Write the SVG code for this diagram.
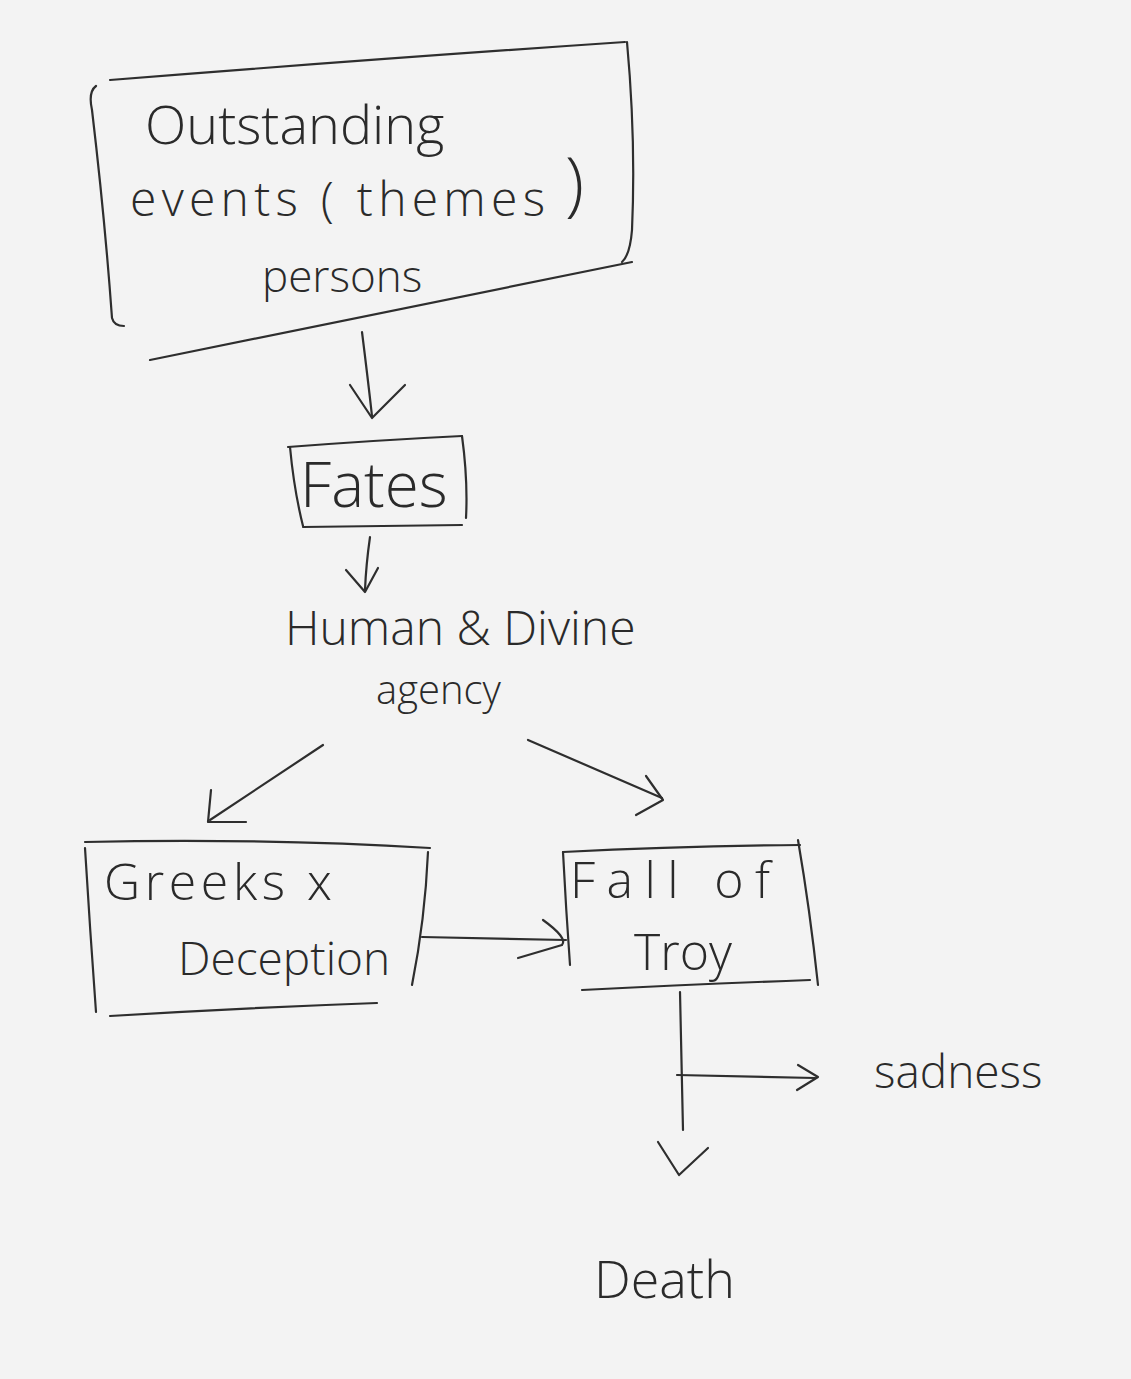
<svg xmlns="http://www.w3.org/2000/svg" width="1131" height="1379" viewBox="0 0 1131 1379">
<style>
.ln{fill:none;stroke:#2e2e2e;stroke-width:2.2;stroke-linecap:round;stroke-linejoin:round}
.tx{font-family:"Open Sans","Liberation Sans",sans-serif;font-weight:300;fill:#2a2a2a}
</style>
<rect x="0" y="0" width="1131" height="1379" fill="#f3f3f3"/>
<g id="node-outstanding">
<path class="ln" d="M110 80 Q360 60 625 42"/>
<path class="ln" d="M96 86 Q88 92 92 110 Q105 220 112 318 Q114 326 124 326"/>
<path class="ln" d="M627 42 Q636 140 632 230 Q630 255 622 262"/>
<path class="ln" d="M150 360 Q400 310 632 262"/>
<text class="tx" x="145" y="144" font-size="54">Outstanding</text>
<text class="tx" x="130" y="216" font-size="48" textLength="415">events ( themes</text>
<text class="tx" x="565" y="208" font-size="70">)</text>
<text class="tx" x="262" y="292" font-size="44">persons</text>
</g>
<g id="node-fates">
<path class="ln" d="M288 447 Q380 440 462 436"/>
<path class="ln" d="M290 447 Q294 490 303 526"/>
<path class="ln" d="M303 527 L462 525"/>
<path class="ln" d="M462 436 Q468 480 466 518"/>
<text class="tx" x="300" y="507" font-size="62">Fates</text>
</g>
<g id="node-agency">
<text class="tx" x="285" y="645" font-size="48">Human &amp; Divine</text>
<text class="tx" x="376" y="704" font-size="40">agency</text>
</g>
<g id="node-greeks">
<path class="ln" d="M85 842 Q260 838 430 848"/>
<path class="ln" d="M85 848 Q90 930 96 1012"/>
<path class="ln" d="M110 1016 Q240 1008 377 1003"/>
<path class="ln" d="M428 852 Q425 920 412 985"/>
<text class="tx" x="104" y="900" font-size="50" textLength="228">Greeks x</text>
<text class="tx" x="178" y="975" font-size="46">Deception</text>
</g>
<g id="node-troy">
<path class="ln" d="M563 852 Q680 846 800 845"/>
<path class="ln" d="M563 852 Q566 910 570 965"/>
<path class="ln" d="M798 840 Q810 910 818 985"/>
<path class="ln" d="M582 990 Q700 984 810 980"/>
<text class="tx" x="570" y="898" font-size="50" textLength="200">Fall of</text>
<text class="tx" x="634" y="970" font-size="50">Troy</text>
</g>
<g id="node-sadness">
<text class="tx" x="874" y="1088" font-size="46">sadness</text>
</g>
<g id="node-death">
<text class="tx" x="594" y="1298" font-size="52">Death</text>
</g>
<g id="connectors">
<path class="ln" d="M362 332 Q368 380 372 416"/>
<path class="ln" d="M350 385 L372 418 L405 385"/>
<path class="ln" d="M370 537 Q366 565 365 590"/>
<path class="ln" d="M346 570 L365 592 L378 568"/>
<path class="ln" d="M323 745 L210 820"/>
<path class="ln" d="M211 790 L208 822 L246 822"/>
<path class="ln" d="M528 740 L662 798"/>
<path class="ln" d="M646 776 L663 800 L636 815"/>
<path class="ln" d="M422 937 L566 940"/>
<path class="ln" d="M543 920 Q568 938 562 945 L518 958"/>
<path class="ln" d="M680 992 L683 1130"/>
<path class="ln" d="M677 1075 L815 1078"/>
<path class="ln" d="M798 1065 L818 1077 L797 1090"/>
<path class="ln" d="M658 1142 L679 1175 L708 1148"/>
</g>
</svg>
